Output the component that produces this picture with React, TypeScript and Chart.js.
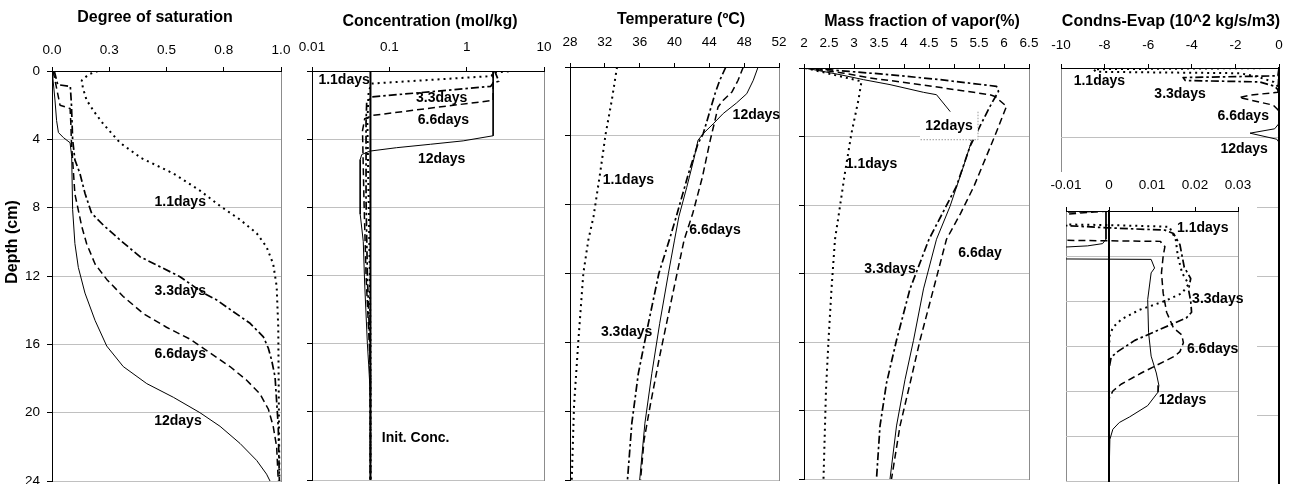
import React, { useEffect, useRef } from 'react';
import { Chart, registerables } from 'chart.js';

Chart.register(...registerables);

const FONT = "Arial, 'Liberation Sans', Helvetica, sans-serif";
Chart.defaults.font.family = FONT;
Chart.defaults.color = '#000';

const W = 1300;
const H = 510;
const TICK_SIZE = 13.5;

// ---------- tick values and labels ----------
const DEPTH_TICKS = [0, 4, 8, 12, 16, 20, 24];
const DEPTH_LABELS = ['0', '4', '8', '12', '16', '20', '24'];
const SAT_TICKS = [0, 0.25, 0.5, 0.75, 1];
const SAT_LABELS = ['0.0', '0.3', '0.5', '0.8', '1.0'];
const CONC_TICKS = [0.01, 0.1, 1, 10];
const CONC_LABELS = ['0.01', '0.1', '1', '10'];
const TEMP_TICKS = [28, 32, 36, 40, 44, 48, 52];
const TEMP_LABELS = ['28', '32', '36', '40', '44', '48', '52'];
const VAP_TICKS = [2, 2.5, 3, 3.5, 4, 4.5, 5, 5.5, 6, 6.5];
const VAP_LABELS = ['2', '2.5', '3', '3.5', '4', '4.5', '5', '5.5', '6', '6.5'];
const CE_TICKS = [-10, -8, -6, -4, -2, 0];
const CE_LABELS = ['-10', '-8', '-6', '-4', '-2', '0'];
const INSET_TICKS = [-0.01, 0, 0.01, 0.02, 0.03];
const INSET_LABELS = ['-0.01', '0', '0.01', '0.02', '0.03'];

// ---------- series names ----------
const SERIES = ['1.1days', '3.3days', '6.6days', '12days'];

// ---------- data: [depth (cm), value] ----------
// Degree of saturation
const SAT_11 = [[0, 0.2], [0.2, 0.16], [0.55, 0.13], [1.0, 0.135], [1.7, 0.151], [2.4, 0.185], [3.1, 0.224], [4.2, 0.297], [5.1, 0.39], [6.0, 0.53], [7.0, 0.646], [7.9, 0.734], [8.7, 0.821], [9.5, 0.894], [10.3, 0.937], [11.3, 0.966], [12.6, 0.981], [15.0, 0.988], [24, 0.993]];
const SAT_33 = [[0, 0.01], [0.8, 0.025], [0.9, 0.08], [2.0, 0.085], [4.0, 0.09], [5.2, 0.1], [6.0, 0.122], [7.16, 0.144], [8.33, 0.173], [9.02, 0.224], [9.89, 0.297], [10.87, 0.384], [11.36, 0.457], [12.04, 0.559], [13.0, 0.661], [13.4, 0.719], [14.09, 0.792], [14.77, 0.865], [15.56, 0.923], [16.24, 0.945], [16.92, 0.959], [17.9, 0.974], [20.8, 0.988], [24, 0.993]];
const SAT_66 = [[0, 0.005], [2.0, 0.035], [2.2, 0.079], [3.0, 0.082], [4.2, 0.085], [5.2, 0.09], [7.2, 0.1], [9.1, 0.13], [10.1, 0.151], [11.3, 0.188], [12.2, 0.239], [13.2, 0.311], [14.2, 0.399], [15.0, 0.5], [15.7, 0.603], [16.5, 0.69], [17.3, 0.777], [18.1, 0.85], [18.9, 0.908], [19.8, 0.945], [20.8, 0.966], [22.0, 0.981], [24, 0.988]];
const SAT_12 = [[0, 0.003], [0.3, 0.003], [1.7, 0.013], [2.9, 0.02], [3.6, 0.028], [3.9, 0.05], [4.2, 0.079], [5.0, 0.086], [8.1, 0.09], [10.1, 0.1], [11.5, 0.115], [13.0, 0.144], [14.6, 0.188], [16.1, 0.239], [17.3, 0.311], [18.3, 0.414], [19.1, 0.53], [20.0, 0.646], [20.8, 0.734], [21.8, 0.821], [22.8, 0.894], [23.6, 0.937], [24, 0.952]];

// Concentration (mol/kg)
const CONC_11 = [[0, 4.2], [0.08, 2.2], [0.3, 2.1], [0.74, 0.059], [1.2, 0.054], [3, 0.052], [7.6, 0.054], [12, 0.056], [16, 0.057], [24, 0.057]];
const CONC_33 = [[0, 2.3], [0.6, 2.6], [0.7, 2.2], [0.9, 2.05], [1.52, 0.06], [1.8, 0.051], [3, 0.05], [7.6, 0.05], [12, 0.052], [16, 0.056], [18, 0.057], [24, 0.057]];
const CONC_66 = [[0, 2.2], [1.72, 2.2], [2.6, 0.062], [2.8, 0.048], [3.5, 0.045], [7.6, 0.047], [12, 0.05], [16, 0.055], [18, 0.057], [24, 0.057]];
const CONC_12 = [[0, 2.2], [3.8, 2.2], [4.1, 0.9], [4.3, 0.34], [4.5, 0.124], [4.7, 0.056], [4.9, 0.044], [5.2, 0.042], [8.4, 0.042], [10, 0.046], [12.5, 0.048], [16, 0.052], [17.2, 0.054], [18.5, 0.056], [20, 0.057], [24, 0.057]];
const CONC_INIT = [[0, 0.057], [24, 0.057]];

// Temperature (ºC)
const TEMP_11 = [[0, 33.4], [1.93, 32.8], [3.87, 32.1], [6.2, 31.45], [8.7, 30.7], [10.06, 30.1], [12.0, 29.53], [15.9, 28.96], [19.7, 28.46], [24, 28.2]];
const TEMP_33 = [[0, 45.9], [0.77, 45.2], [1.55, 44.65], [2.5, 44.1], [3.87, 43.3], [4.45, 42.7], [6.2, 41.6], [8.7, 40.2], [10.06, 39.4], [12.0, 38.2], [14.9, 37.0], [17.8, 35.85], [20.7, 35.1], [24, 34.6]];
const TEMP_66 = [[0, 47.9], [0.77, 47.3], [1.45, 46.6], [1.93, 45.6], [2.32, 45.0], [3.1, 44.65], [4.26, 44.1], [6.4, 43.2], [8.5, 42.1], [10.06, 41.1], [13.9, 39.5], [16.8, 38.3], [19.7, 37.2], [21.7, 36.5], [24, 36.1]];
const TEMP_12 = [[0, 49.6], [0.77, 49.05], [1.55, 48.3], [2.1, 47.1], [2.7, 45.6], [3.3, 44.45], [3.87, 43.3], [4.26, 42.7], [5.4, 42.2], [7.0, 41.4], [8.7, 40.5], [10.06, 40.0], [12.0, 39.3], [14.9, 38.3], [17.8, 37.4], [20.7, 36.6], [24, 36.0]];

// Mass fraction of vapor (%)
const VAP_11 = [[0, 2.02], [0.4, 2.6], [0.78, 3.15], [1.85, 3.09], [3.8, 2.95], [6.1, 2.82], [8.66, 2.69], [10.0, 2.62], [12.9, 2.55], [15.9, 2.49], [18.8, 2.44], [24, 2.39]];
const VAP_33 = [[0, 2.1], [0.2, 2.9], [0.39, 3.72], [0.68, 4.72], [1.07, 5.85], [1.36, 5.89], [2.24, 5.72], [3.4, 5.52], [4.58, 5.32], [6.9, 5.05], [10.0, 4.5], [12.9, 4.12], [15.9, 3.85], [18.4, 3.65], [20.9, 3.52], [24, 3.45]];
const VAP_66 = [[0, 2.02], [0.3, 2.8], [0.58, 3.32], [1.0, 4.4], [1.56, 5.72], [1.66, 5.82], [2.24, 6.05], [3.8, 5.84], [5.35, 5.62], [6.9, 5.4], [8.5, 5.13], [10.0, 4.85], [12.9, 4.59], [15.9, 4.32], [18.8, 4.09], [20.9, 3.92], [24, 3.75]];
const VAP_12 = [[0, 2.02], [0.39, 2.72], [0.68, 3.19], [0.97, 3.72], [1.42, 4.39], [1.56, 4.65], [2.53, 4.92], [4.28, 5.35], [5.74, 5.19], [8.08, 4.92], [10.0, 4.65], [12.9, 4.39], [15.9, 4.19], [18.2, 4.02], [20.9, 3.85], [24, 3.72]];

// Condensation - Evaporation (10^2 kg/s/m3)
const CE_11 = [[0, 0], [0.07, -8.5], [0.22, -8.4], [0.3, -1.8], [0.5, -1.0], [0.8, -0.25], [1.1, -0.03], [1.25, 0], [1.4, 0.014], [2.5, 0.0155], [4, 0.016], [5.5, 0.017], [6.5, 0.0185], [7.3, 0.017], [8, 0.013], [8.8, 0.007], [9.6, 0.003], [10.3, 0.001], [11, 0.0002], [12, 0], [24, 0]];
const CE_33 = [[0, 0], [0.45, -0.05], [0.55, -4.4], [0.72, -4.3], [0.8, -0.9], [1.05, -0.2], [1.3, -0.01], [1.5, 0], [1.7, 0.013], [2.0, 0.015], [3, 0.0165], [5, 0.0175], [6, 0.019], [7, 0.0185], [8, 0.019], [9, 0.0192], [9.5, 0.018], [10.5, 0.012], [11.5, 0.006], [12.5, 0.002], [13, 0.0005], [14, 0], [24, 0]];
const CE_66 = [[0, 0], [1.4, -0.05], [1.56, -1.33], [1.7, -1.83], [2.14, -0.26], [2.4, -0.05], [2.6, -0.012], [2.7, 0.012], [2.9, 0.0122], [3.16, 0.013], [4.0, 0.0126], [5.5, 0.0122], [7.3, 0.0126], [9.0, 0.0134], [10.4, 0.015], [11.0, 0.0169], [11.7, 0.0173], [12.5, 0.0165], [12.9, 0.0153], [14.4, 0.0075], [15.4, 0.0028], [16.0, 0.0009], [16.7, 0], [24, 0]];
const CE_12 = [[0, -0.0007], [2.5, -0.0007], [2.9, -0.0015], [3.1, -0.005], [3.2, -0.01], [3.5, -0.2], [3.75, -1.33], [4.1, -0.1], [4.3, 0.0098], [5.07, 0.0106], [5.5, 0.0098], [7.87, 0.009], [10.8, 0.0092], [12.9, 0.0098], [14.4, 0.011], [15.5, 0.0116], [16.1, 0.0114], [17.3, 0.009], [18.3, 0.0048], [18.8, 0.0024], [19.4, 0.0009], [20.3, 0.0002], [21, 0], [24, 0]];

// ---------- styles ----------
const STYLE: any = {
  s11: { borderDash: [2, 4], borderWidth: 2 },
  s33: { borderDash: [8, 3, 2.5, 3], borderWidth: 1.7 },
  s66: { borderDash: [7, 4], borderWidth: 1.5 },
  s12: { borderDash: [], borderWidth: 1 },
  init: { borderDash: [], borderWidth: 2 },
};

const LBL = `bold 14px ${FONT}`;
const TTL = `bold 16px ${FONT}`;

type Item = { text: string; px?: [number, number]; at?: [number, number]; font?: string; rot?: number; box?: [number, number] };
type Area = { l: number; t: number; r: number; b: number };

function ds(label: string, pts: number[][], style: any) {
  return {
    label,
    data: pts.map(([d, v]) => ({ x: v, y: d })),
    showLine: true,
    borderColor: '#000',
    backgroundColor: '#000',
    pointRadius: 0,
    pointHoverRadius: 0,
    tension: 0,
    fill: false,
    borderCapStyle: 'butt',
    borderJoinStyle: 'round',
    ...style,
  };
}

function annotPlugin(items: Item[], bg?: number[]) {
  return {
    id: 'annot',
    beforeDraw(chart: any) {
      const ctx = chart.ctx;
      const a = chart.chartArea;
      ctx.save();
      if (bg) {
        ctx.fillStyle = '#fff';
        ctx.fillRect(bg[0], bg[1], bg[2], bg[3]);
      }
      ctx.strokeStyle = '#8c8c8c';
      ctx.lineWidth = 1;
      ctx.strokeRect(Math.round(a.left) + 0.5, Math.round(a.top) + 0.5, Math.round(a.right - a.left), Math.round(a.bottom - a.top));
      ctx.restore();
    },
    afterDatasetsDraw(chart: any) {
      const ctx = chart.ctx;
      for (const it of items) {
        let x: number;
        let y: number;
        if (it.at) {
          x = chart.scales.x.getPixelForValue(it.at[0]);
          y = chart.scales.y.getPixelForValue(it.at[1]);
        } else {
          x = it.px![0];
          y = it.px![1];
        }
        ctx.save();
        ctx.font = it.font || LBL;
        ctx.textAlign = 'center';
        ctx.textBaseline = 'middle';
        if (it.box) {
          const [bw, bh] = it.box;
          ctx.fillStyle = '#fff';
          ctx.fillRect(x - bw / 2, y - bh / 2, bw, bh);
          ctx.strokeStyle = '#999';
          ctx.lineWidth = 1;
          ctx.setLineDash([1.5, 1.5]);
          ctx.beginPath();
          ctx.moveTo(x + bw / 2, y - bh / 2);
          ctx.lineTo(x + bw / 2, y + bh / 2);
          ctx.lineTo(x - bw / 2, y + bh / 2);
          ctx.stroke();
          ctx.setLineDash([]);
        }
        ctx.fillStyle = '#000';
        ctx.translate(x, y);
        if (it.rot) ctx.rotate(it.rot);
        ctx.fillText(it.text, 0, 0);
        ctx.restore();
      }
    },
  };
}

type Panel = {
  area: Area;
  yw: number;
  yLabels?: boolean;
  yAt0?: boolean;
  xType?: string;
  xMin: number;
  xMax: number;
  xTicks: number[];
  xLabels: string[];
  xPad: number;
  datasets: any[];
  items: Item[];
  bg?: number[];
};

function makeConfig(p: Panel): any {
  const { area } = p;
  const yAt0 = !!p.yAt0;
  const yw = yAt0 ? 0 : p.yw;
  const yScale: any = {
    type: 'linear',
    position: yAt0 ? { x: 0 } : 'left',
    reverse: true,
    min: 0,
    max: 24,
    afterBuildTicks: (s: any) => { s.ticks = DEPTH_TICKS.map((v) => ({ value: v })); },
    ticks: { display: !!p.yLabels, callback: (_v: any, i: number) => DEPTH_LABELS[i], padding: 7, font: { size: TICK_SIZE }, color: '#000' },
    grid: { color: '#c0c0c0', lineWidth: 1, drawTicks: !yAt0, tickLength: 5, tickColor: '#000' },
    border: { display: true, color: '#000', width: yAt0 ? 2 : 1 },
  };
  if (!yAt0) yScale.afterFit = (s: any) => { s.width = yw; };
  return {
    type: 'scatter',
    data: { datasets: p.datasets },
    options: {
      responsive: false,
      animation: false,
      events: [],
      layout: { padding: { left: area.l - yw, right: W - area.r, top: 0, bottom: H - area.b } },
      plugins: { legend: { display: false }, tooltip: { enabled: false } },
      scales: {
        x: {
          type: p.xType || 'linear',
          position: 'top',
          min: p.xMin,
          max: p.xMax,
          afterBuildTicks: (s: any) => { s.ticks = p.xTicks.map((v) => ({ value: v })); },
          afterFit: (s: any) => { s.height = area.t; },
          ticks: {
            callback: (_v: any, i: number) => p.xLabels[i],
            padding: p.xPad,
            font: { size: TICK_SIZE },
            color: '#000',
            maxRotation: 0,
            minRotation: 0,
            autoSkip: false,
          },
          grid: { drawOnChartArea: false, drawTicks: true, tickLength: 4, tickColor: '#000' },
          border: { display: true, color: '#000', width: 1 },
        },
        y: yScale,
      },
    },
    plugins: [annotPlugin(p.items, p.bg)],
  };
}

function buildConfigs(): any[] {
  const p1 = makeConfig({
    area: { l: 52, t: 71, r: 281, b: 481 }, yw: 46, yLabels: true,
    xMin: 0, xMax: 1, xTicks: SAT_TICKS, xLabels: SAT_LABELS, xPad: 8.6,
    datasets: [ds(SERIES[0], SAT_11, STYLE.s11), ds(SERIES[1], SAT_33, STYLE.s33), ds(SERIES[2], SAT_66, STYLE.s66), ds(SERIES[3], SAT_12, STYLE.s12)],
    items: [
      { text: 'Degree of saturation', px: [155, 18], font: TTL },
      { text: 'Depth (cm)', px: [12.5, 242], font: TTL, rot: -Math.PI / 2 },
      { text: SERIES[0], at: [0.56, 7.7] },
      { text: SERIES[1], at: [0.56, 12.9] },
      { text: SERIES[2], at: [0.56, 16.6] },
      { text: SERIES[3], at: [0.55, 20.5] },
    ],
  });
  const p2 = makeConfig({
    area: { l: 312, t: 71, r: 544, b: 480 }, yw: 5, xType: 'logarithmic',
    xMin: 0.01, xMax: 10, xTicks: CONC_TICKS, xLabels: CONC_LABELS, xPad: 11.6,
    datasets: [ds('Init. Conc.', CONC_INIT, STYLE.init), ds(SERIES[0], CONC_11, STYLE.s11), ds(SERIES[1], CONC_33, STYLE.s33), ds(SERIES[2], CONC_66, STYLE.s66), ds(SERIES[3], CONC_12, STYLE.s12)],
    items: [
      { text: 'Concentration (mol/kg)', px: [430, 21.7], font: TTL },
      { text: SERIES[0], at: [0.026, 0.55] },
      { text: SERIES[1], at: [0.475, 1.58] },
      { text: SERIES[2], at: [0.5, 2.9] },
      { text: SERIES[3], at: [0.475, 5.2] },
      { text: 'Init. Conc.', at: [0.219, 21.56] },
    ],
  });
  const p3 = makeConfig({
    area: { l: 570, t: 67, r: 779, b: 480 }, yw: 5,
    xMin: 28, xMax: 52, xTicks: TEMP_TICKS, xLabels: TEMP_LABELS, xPad: 12.6,
    datasets: [ds(SERIES[0], TEMP_11, STYLE.s11), ds(SERIES[1], TEMP_33, STYLE.s33), ds(SERIES[2], TEMP_66, STYLE.s66), ds(SERIES[3], TEMP_12, STYLE.s12)],
    items: [
      { text: 'Temperature (ºC)', px: [681, 20], font: TTL },
      { text: SERIES[0], at: [34.7, 6.58] },
      { text: SERIES[2], at: [44.65, 9.5] },
      { text: SERIES[1], at: [34.5, 15.4] },
      { text: SERIES[3], at: [49.4, 2.8] },
    ],
  });
  const p4 = makeConfig({
    area: { l: 804, t: 68, r: 1029, b: 479 }, yw: 5,
    xMin: 2, xMax: 6.5, xTicks: VAP_TICKS, xLabels: VAP_LABELS, xPad: 12.6,
    datasets: [ds(SERIES[0], VAP_11, STYLE.s11), ds(SERIES[1], VAP_33, STYLE.s33), ds(SERIES[2], VAP_66, STYLE.s66), ds(SERIES[3], VAP_12, STYLE.s12)],
    items: [
      { text: 'Mass fraction of vapor(%)', px: [922, 21.7], font: TTL },
      { text: SERIES[3], at: [4.9, 3.37], box: [58, 28] },
      { text: SERIES[0], at: [3.35, 5.64] },
      { text: SERIES[1], at: [3.72, 11.77] },
      { text: '6.6day', at: [5.52, 10.8] },
    ],
  });
  const p5 = makeConfig({
    area: { l: 1061, t: 68, r: 1279, b: 485 }, yw: 0, yAt0: true,
    xMin: -10, xMax: 0, xTicks: CE_TICKS, xLabels: CE_LABELS, xPad: 10.8,
    datasets: [ds(SERIES[0], CE_11, STYLE.s11), ds(SERIES[1], CE_33, STYLE.s33), ds(SERIES[2], CE_66, STYLE.s66), ds(SERIES[3], CE_12, STYLE.s12)],
    items: [
      { text: 'Condns-Evap (10^2 kg/s/m3)', px: [1171, 21.7], font: TTL },
      { text: SERIES[0], at: [-8.24, 0.78] },
      { text: SERIES[1], at: [-4.54, 1.49] },
      { text: SERIES[2], at: [-1.64, 2.75] },
      { text: SERIES[3], at: [-1.6, 4.65] },
    ],
  });
  const inset = makeConfig({
    area: { l: 1066, t: 211, r: 1238, b: 481 }, yw: 0, yAt0: true,
    xMin: -0.01, xMax: 0.03, xTicks: INSET_TICKS, xLabels: INSET_LABELS, xPad: 13.6,
    datasets: [ds(SERIES[0], CE_11, STYLE.s11), ds(SERIES[1], CE_33, STYLE.s33), ds(SERIES[2], CE_66, STYLE.s66), ds(SERIES[3], CE_12, STYLE.s12)],
    items: [
      { text: SERIES[0], at: [0.0218, 1.53] },
      { text: SERIES[1], at: [0.0253, 7.8] },
      { text: SERIES[2], at: [0.0241, 12.3] },
      { text: SERIES[3], at: [0.0171, 16.8] },
    ],
    bg: [1035, 172, 222, 340],
  });
  return [p1, p2, p3, p4, p5, inset];
}

export default function App() {
  const refs = useRef<(HTMLCanvasElement | null)[]>([]);
  useEffect(() => {
    const cfgs = buildConfigs();
    const charts = cfgs.map((cfg, i) => new Chart(refs.current[i] as HTMLCanvasElement, cfg));
    return () => { charts.forEach((c) => c.destroy()); };
  }, []);
  return (
    <div style={{ position: 'absolute', left: 0, top: 0, width: 1300, height: 484, overflow: 'hidden', background: '#fff' }}>
      {[0, 1, 2, 3, 4, 5].map((i) => (
        <canvas
          key={i}
          ref={(el) => { refs.current[i] = el; }}
          width={W}
          height={H}
          style={{ position: 'absolute', left: 0, top: 0, width: W, height: H }}
        />
      ))}
    </div>
  );
}
